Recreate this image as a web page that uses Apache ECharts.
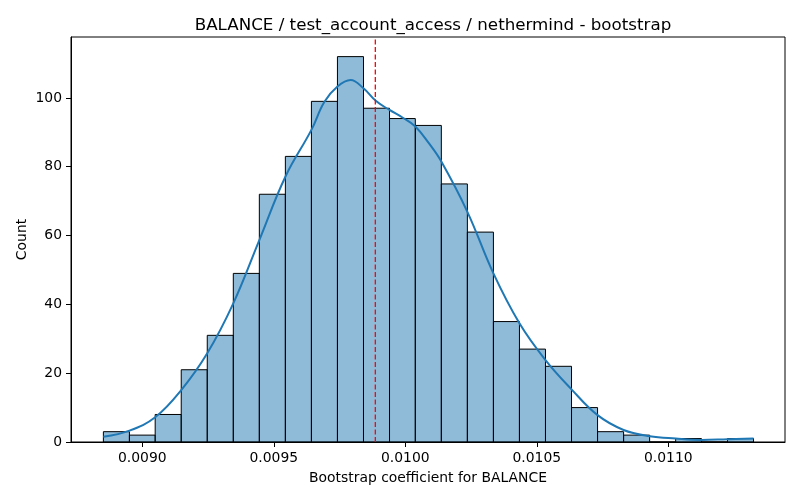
<!DOCTYPE html>
<html>
<head>
<meta charset="utf-8">
<script src="https://cdn.jsdelivr.net/npm/echarts@6/dist/echarts.min.js"></script>
<style>
  html, body { margin: 0; padding: 0; background: #fff; }
  #chart { width: 800px; height: 500px; }
</style>
</head>
<body>
<div id="chart"></div>
<script>
// bin edges (25 bins)
var binEdges = [0.008852, 0.008951, 0.009049, 0.009148, 0.009247, 0.009346,
	0.009445, 0.009544, 0.009643, 0.009742, 0.009841, 0.009940, 0.010038,
	0.010137, 0.010236, 0.010335, 0.010434, 0.010533, 0.010632, 0.010731,
	0.010830, 0.010929, 0.011028, 0.011126, 0.011225, 0.011324];
var counts = [3, 2, 8, 21, 31, 49, 72, 83, 99, 112, 97, 94, 92, 75, 61, 35, 27, 22, 10, 3, 2, 0, 1, 0, 1];

// kde curve, scaled to counts
var kdeX = [0.008852, 0.008951, 0.009049, 0.009148, 0.009247, 0.009346,
	0.009445, 0.009544, 0.009643, 0.009692, 0.009742, 0.009792, 0.009841,
	0.009890, 0.009940, 0.009989, 0.010038, 0.010088, 0.010137, 0.010236,
	0.010335, 0.010434, 0.010533, 0.010632, 0.010731, 0.010830, 0.010929,
	0.011028, 0.011126, 0.011225, 0.011324];
var kdeY = [1.5, 3.3, 7.2, 15.1, 25.8, 40.3,
	58.7, 77.1, 90.7, 98.8, 103.3, 105.2, 102.8,
	99.0, 96.5, 94.3, 91.7, 87.0, 81.5, 66.9,
	49.0, 34.5, 23.8, 15.3, 7.8, 3.5, 1.7,
	1.0, 0.6, 0.8, 1.0];

// dashed reference line
var refValue = 0.009886;

var xTicks = [0.0090, 0.0095, 0.0100, 0.0105, 0.0110];
var yTicks = [0, 20, 40, 60, 80, 100];
var xMin = 0.0087289, xMax = 0.0114437;
var yMin = 0, yMax = 117.7;

var titleText = 'BALANCE / test_account_access / nethermind - bootstrap';
var xName = 'Bootstrap coefficient for BALANCE';
var yName = 'Count';

var histData = [];
for (var i = 0; i < counts.length; i++) {
	histData.push([binEdges[i], binEdges[i + 1], counts[i]]);
}
var kdeData = [];
for (var j = 0; j < kdeX.length; j++) {
	kdeData.push([kdeX[j], kdeY[j]]);
}

var font = 'DejaVu Sans';
var myChart = echarts.init(document.getElementById('chart'));

function renderBin(params, api) {
	var p0 = api.coord([api.value(0), api.value(2)]);
	var p1 = api.coord([api.value(1), 0]);
	return {
		type: 'rect',
		shape: { x: p0[0], y: p0[1], width: p1[0] - p0[0], height: p1[1] - p0[1] },
		style: { fill: 'rgba(31,119,180,0.5)', stroke: '#000', lineWidth: 1 }
	};
}

var option = {
	backgroundColor: '#fff',
	animation: false,
	title: {
		text: titleText,
		left: 428, top: 12, textAlign: 'center',
		textStyle: { fontFamily: font, fontSize: 16.7, fontWeight: 'normal', color: '#000' }
	},
	grid: {
		left: 71, right: 15, top: 37, bottom: 58,
		show: true, borderColor: '#000', borderWidth: 1, backgroundColor: 'transparent'
	},
	xAxis: {
		type: 'value', min: xMin, max: xMax,
		name: xName, nameLocation: 'middle', nameGap: 29, nameMoveOverlap: false,
		nameTextStyle: { fontFamily: font, fontSize: 13.9, color: '#000' },
		splitLine: { show: false },
		axisPointer: { show: false },
		axisLine: { show: true, lineStyle: { color: '#000', width: 1 } },
		axisTick: { show: true, length: 5, customValues: xTicks, lineStyle: { color: '#000' } },
		axisLabel: {
			customValues: xTicks, margin: 9,
			fontFamily: font, fontSize: 13.9, color: '#000',
			formatter: function(v) { return v.toFixed(4); }
		}
	},
	yAxis: {
		type: 'value', min: yMin, max: yMax,
		name: yName, nameLocation: 'middle', nameGap: 42, nameRotate: 90, nameMoveOverlap: false,
		nameTextStyle: { fontFamily: font, fontSize: 13.9, color: '#000' },
		splitLine: { show: false },
		axisLine: { show: true, lineStyle: { color: '#000', width: 1 } },
		axisTick: { show: true, length: 5, customValues: yTicks, lineStyle: { color: '#000' } },
		axisLabel: {
			customValues: yTicks, margin: 9,
			fontFamily: font, fontSize: 13.9, color: '#000'
		}
	},
	series: [
		{
			type: 'custom',
			renderItem: renderBin,
			encode: { x: [0, 1], y: 2 },
			data: histData,
			z: 2
		},
		{
			type: 'line',
			data: kdeData,
			smooth: 0.4,
			showSymbol: false,
			lineStyle: { color: '#1f77b4', width: 2 },
			z: 3
		},
		{
			type: 'line',
			data: [[refValue, yMin], [refValue, yMax]],
			showSymbol: false,
			silent: true,
			itemStyle: { color: '#ff0000' },
			lineStyle: { color: '#ff0000', width: 1.3, type: [5, 2.5], opacity: 1 },
			z: 4
		}
	]
};
myChart.setOption(option);
</script>
</body>
</html>
